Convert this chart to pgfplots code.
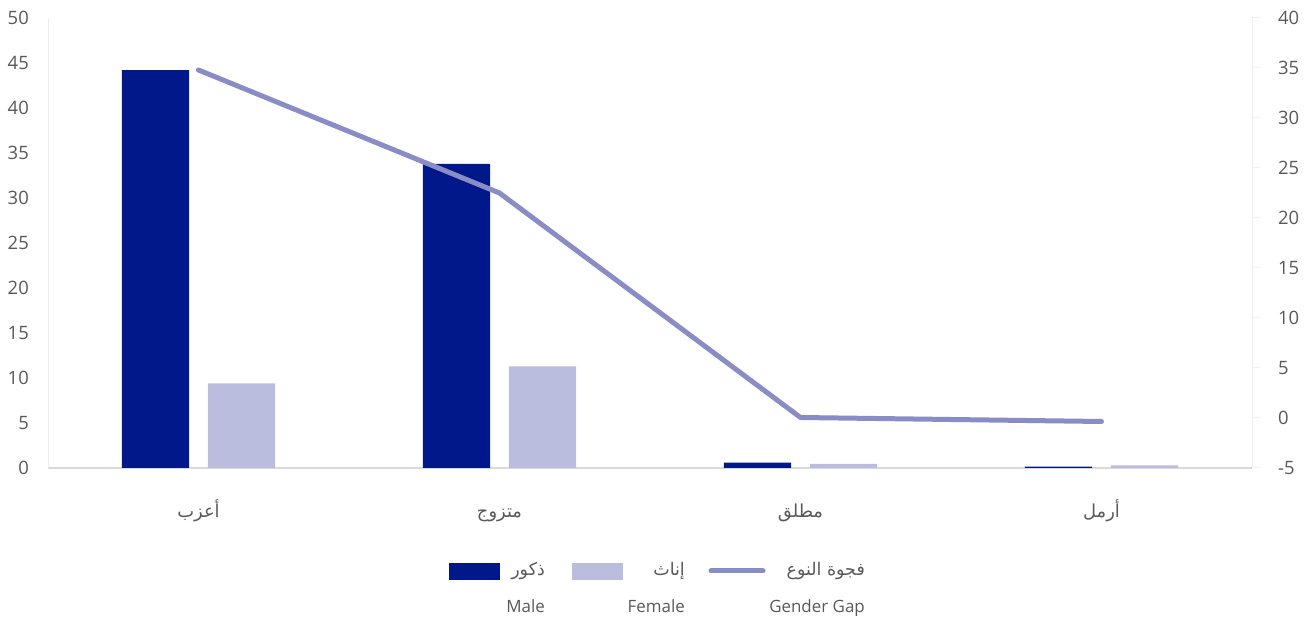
\documentclass[border=0pt]{standalone}
\usepackage{pgfplots}
\pgfplotsset{compat=1.18}
\usepackage{pgfplotstable}
\usepackage{fontspec}
\setmainfont{Open Sans}
\newfontfamily\arabicfont[Script=Arabic]{DejaVu Sans}
\TeXXeTstate=1
\definecolor{male}{HTML}{00188A}
\definecolor{female}{HTML}{BBBDDF}
\definecolor{gap}{HTML}{8A8CC6}
\definecolor{txt}{HTML}{595959}
\definecolor{axisline}{HTML}{D9D9D9}
\definecolor{faint}{HTML}{EFEFEF}

\pgfplotstableread{
x male female gap
0 44.2 9.4 34.8
1 33.8 11.3 22.5
2 0.6 0.45 0.05
3 0.15 0.3 -0.35
}\datatable

\begin{document}
\begin{tikzpicture}
\useasboundingbox (0,0) rectangle (1313bp,619bp);
\begin{axis}[
  at={(48bp,151bp)}, anchor=south west, scale only axis,
  width=1204bp, height=450bp,
  xmin=-0.5, xmax=3.5, ymin=0, ymax=50,
  axis x line*=bottom, axis y line*=left,
  x axis line style={draw=axisline, line width=1.2pt, -},
  y axis line style={draw=faint, line width=1pt, -},
  ytick={0,5,...,50}, xtick={0,1,2,3},
  xticklabels={{\arabicfont\beginR أعزب\endR},{\arabicfont\beginR متزوج\endR},{\arabicfont\beginR مطلق\endR},{\arabicfont\beginR أرمل\endR}},
  tick style={draw=none},
  yticklabel style={font=\fontsize{18.5}{20}\selectfont, text=txt, inner sep=0pt, xshift=-19bp},
  xticklabel style={font=\fontsize{18}{20}\selectfont, text=txt, anchor=north, text height=24bp, text depth=8bp, inner sep=0pt, yshift=-25bp},
  /pgf/number format/assume math mode=true,
  clip=false,
]
\addplot[ybar, fill=male, draw=none, bar width=0.223, bar shift=-0.143] table[x=x,y=male]{\datatable};
\addplot[ybar, fill=female, draw=none, bar width=0.223, bar shift=0.143] table[x=x,y=female]{\datatable};
\end{axis}
\begin{axis}[
  at={(48bp,151bp)}, anchor=south west, scale only axis,
  width=1204bp, height=450bp,
  xmin=-0.5, xmax=3.5, ymin=-5, ymax=40,
  axis x line=none, axis y line*=right,
  y axis line style={draw=faint, line width=1pt, -},
  ytick={-5,0,...,40},
  tick align=outside, major tick length=8bp,
  ytick style={draw=faint, line width=1pt},
  yticklabel style={font=\fontsize{18.5}{20}\selectfont, text=txt, inner sep=0pt, anchor=west, xshift=18bp},
  /pgf/number format/assume math mode=true,
  clip=false,
]
\addplot[gap, line width=5bp, line cap=round, line join=round] table[x=x,y=gap]{\datatable};
\end{axis}
% legend
\fill[male] (449bp,39bp) rectangle (500bp,56bp);
\fill[female] (572bp,39bp) rectangle (623bp,56bp);
\draw[gap, line width=5bp, line cap=round] (711bp,48bp) -- (763bp,48bp);
\node[anchor=east, text=txt, inner sep=0pt, font=\arabicfont\fontsize{17.5}{20}\selectfont] at (545bp,48bp) {\beginR ذكور\endR};
\node[anchor=east, text=txt, inner sep=0pt, font=\arabicfont\fontsize{17.5}{20}\selectfont] at (685bp,48bp) {\beginR إناث\endR};
\node[anchor=east, text=txt, inner sep=0pt, font=\arabicfont\fontsize{17.5}{20}\selectfont] at (865bp,48bp) {\beginR فجوة النوع\endR};
\node[anchor=base east, text=txt, inner sep=0pt, font=\fontsize{17}{18}\selectfont] at (545bp,7bp) {Male};
\node[anchor=base east, text=txt, inner sep=0pt, font=\fontsize{17}{18}\selectfont] at (685bp,7bp) {Female};
\node[anchor=base east, text=txt, inner sep=0pt, font=\fontsize{17}{18}\selectfont] at (865bp,7bp) {Gender Gap};
\end{tikzpicture}
\end{document}
